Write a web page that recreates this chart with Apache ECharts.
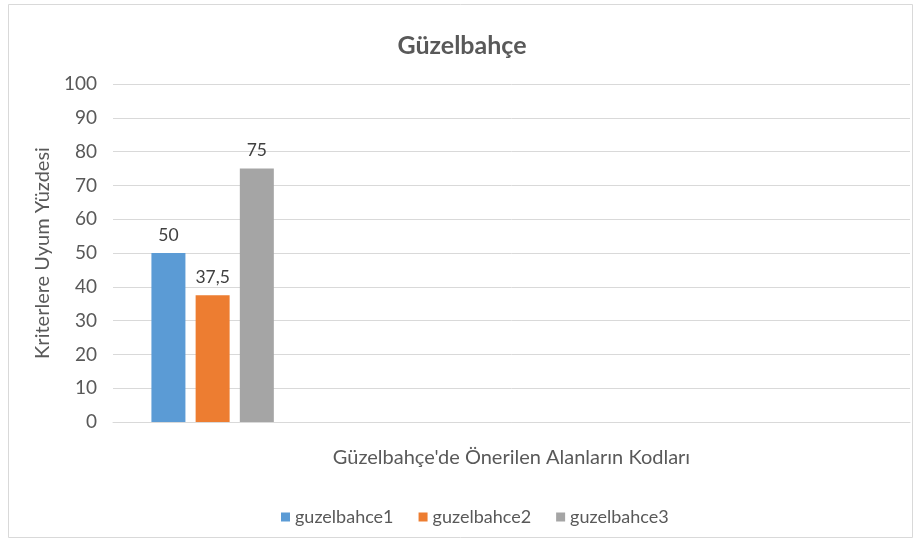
<!DOCTYPE html>
<html>
<head>
<meta charset="utf-8">
<script src="https://cdn.jsdelivr.net/npm/echarts@6/dist/echarts.min.js"></script>
<style>
    html, body { margin: 0; padding: 0; background: #fff; }
    #chart { width: 924px; height: 546px; }
</style>
</head>
<body>
<div id="chart"></div>
<script>
// kategoriler (sadece ilkinde veri var)
var categories = ['', '', '', '']
var seriesNames = ['guzelbahce1', 'guzelbahce2', 'guzelbahce3']
var guzelbahce1 = [50, null, null, null]
var guzelbahce2 = [37.5, null, null, null]
var guzelbahce3 = [75, null, null, null]
var colors = ['#5b9bd5', '#ed7d31', '#a5a5a5']
var yTicks = [0, 10, 20, 30, 40, 50, 60, 70, 80, 90, 100]

var font = 'Lato'
var textColor = '#595959'

var values = [guzelbahce1, guzelbahce2, guzelbahce3]
var list = []
for (var i = 0; i < seriesNames.length; i++) {
    list.push({
        name: seriesNames[i],
        type: 'bar',
        data: values[i],
        barWidth: 34,
        barGap: '30%',
        itemStyle: { color: colors[i] },
        label: {
            show: true,
            position: 'top',
            distance: 9,
            color: '#404040',
            fontFamily: font,
            fontSize: 17.5,
            formatter: function(p) {
                return String(p.value).replace('.', ',')
            }
        }
    })
}

var option = {
    backgroundColor: '#fff',
    animation: false,
    color: colors,
    title: {
        text: 'Güzelbahçe',
        left: 'center',
        top: 28,
        textStyle: {
            fontFamily: font,
            fontSize: 25,
            fontWeight: 'bold',
            color: textColor
        }
    },
    legend: {
        data: seriesNames,
        left: 276,
        top: 503,
        icon: 'rect',
        itemWidth: 9,
        itemHeight: 9,
        itemGap: 25,
        textStyle: {
            fontFamily: font,
            fontSize: 18,
            color: textColor
        }
    },
    grid: {
        left: 113,
        right: 14,
        top: 84,
        bottom: 124
    },
    xAxis: {
        type: 'category',
        data: categories,
        name: "Güzelbahçe'de Önerilen Alanların Kodları",
        nameLocation: 'middle',
        nameGap: 26,
        nameTextStyle: {
            fontFamily: font,
            fontSize: 20,
            color: textColor
        },
        axisLine: { lineStyle: { color: '#d9d9d9' } },
        axisTick: { show: false },
        axisLabel: { show: false }
    },
    yAxis: {
        type: 'value',
        min: yTicks[0],
        max: yTicks[yTicks.length - 1],
        interval: 10,
        name: 'Kriterlere Uyum Yüzdesi',
        nameLocation: 'middle',
        nameGap: 60,
        nameTextStyle: {
            fontFamily: font,
            fontSize: 20,
            color: textColor
        },
        axisLine: { show: false },
        axisTick: { show: false },
        axisLabel: {
            fontFamily: font,
            fontSize: 19,
            color: textColor,
            margin: 16
        },
        splitLine: { lineStyle: { color: '#d9d9d9' } }
    },
    graphic: [{
        type: 'rect',
        shape: { x: 8.5, y: 4.5, width: 904, height: 533 },
        style: { fill: 'none', stroke: '#d9d9d9', lineWidth: 1 },
        silent: true
    }],
    series: list
}

echarts.init(document.getElementById('chart')).setOption(option)
</script>
</body>
</html>
